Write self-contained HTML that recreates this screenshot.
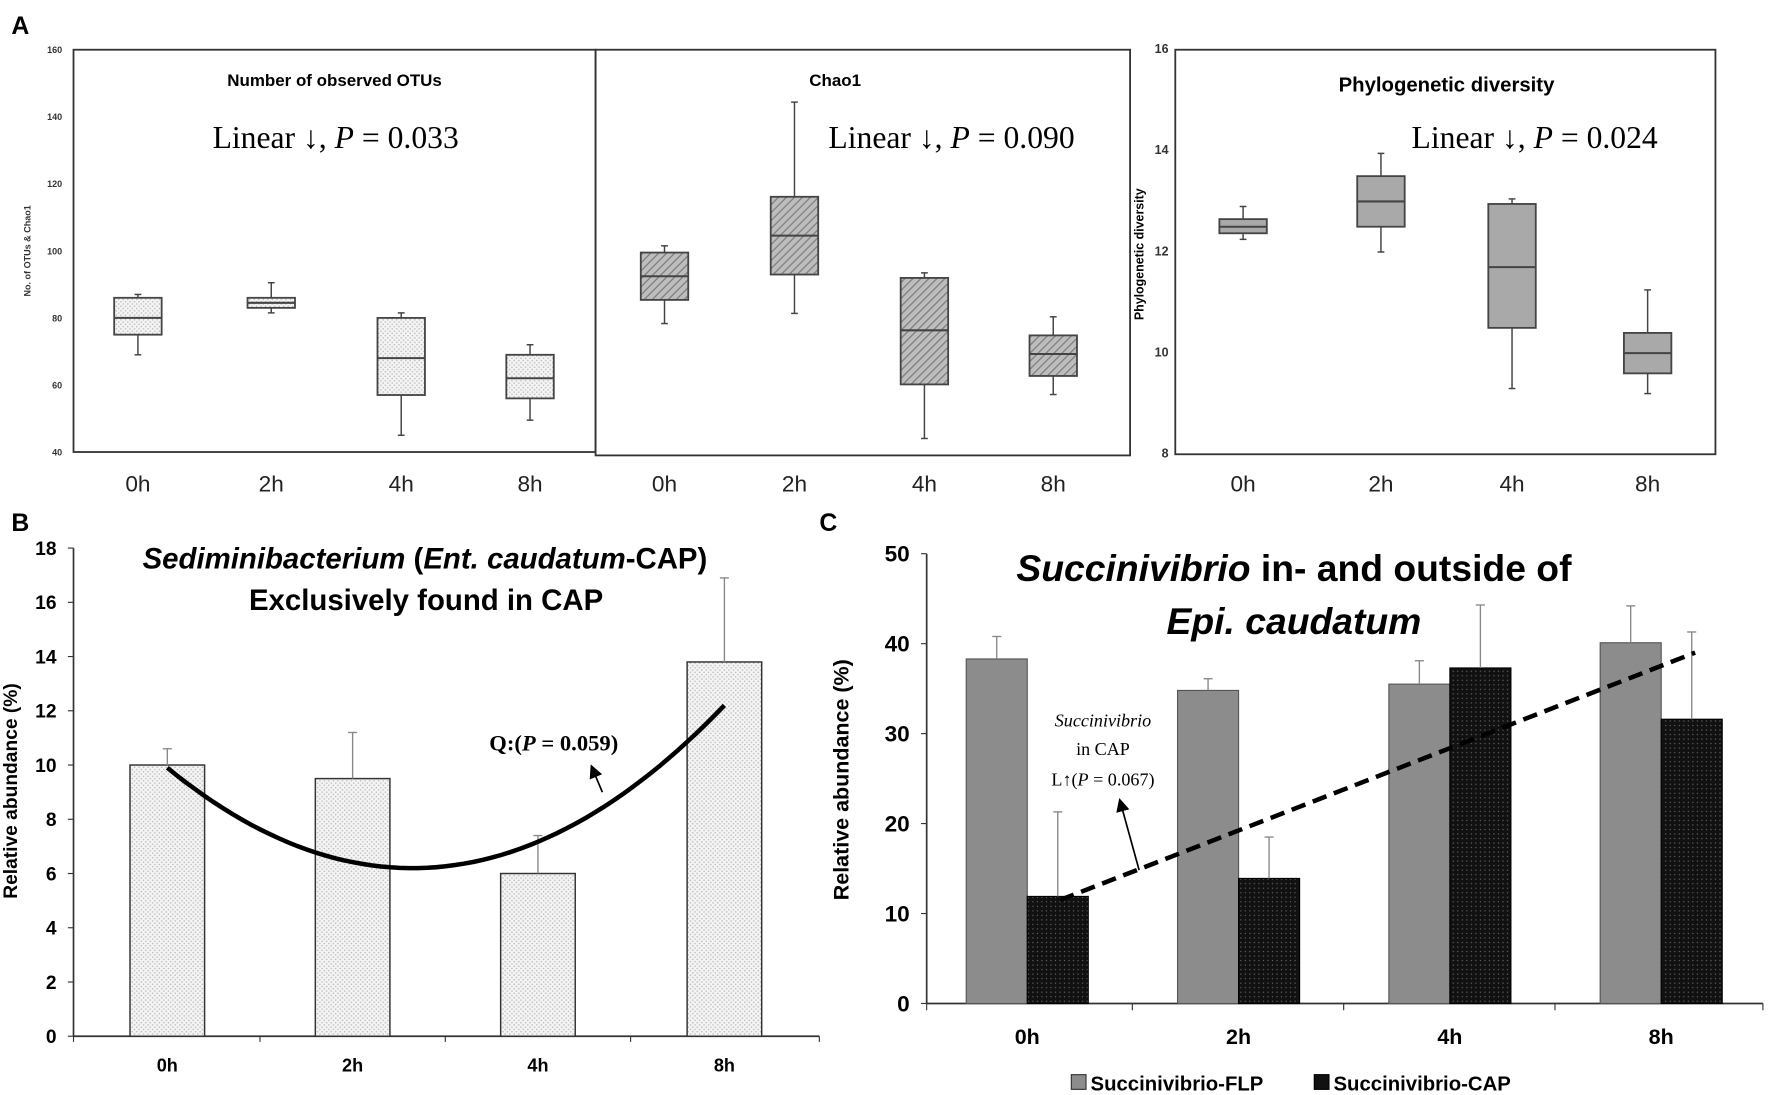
<!DOCTYPE html>
<html><head><meta charset="utf-8"><style>
html,body{margin:0;padding:0;background:#fff;}
svg{display:block;}
.nar{font-family:"Liberation Sans Narrow","Liberation Sans",sans-serif;}
.ser{font-family:"Liberation Serif",serif;}
</style></head><body>
<svg id="fig" width="1772" height="1095" viewBox="0 0 1568 969" xmlns="http://www.w3.org/2000/svg">
<defs>
<pattern id="dots" width="4" height="4" patternUnits="userSpaceOnUse"><rect width="4" height="4" fill="#f4f4f4"/><circle cx="1" cy="1" r="0.7" fill="#bbb"/><circle cx="3" cy="3" r="0.7" fill="#bbb"/></pattern>
<pattern id="hatch" width="5" height="5" patternUnits="userSpaceOnUse" patternTransform="rotate(45)"><rect width="5" height="5" fill="#bdbdbd"/><line x1="0" y1="0" x2="0" y2="5" stroke="#777" stroke-width="2"/></pattern>
<pattern id="blk" width="4" height="4" patternUnits="userSpaceOnUse"><rect width="4" height="4" fill="#111"/><circle cx="2" cy="2" r="0.6" fill="#666"/></pattern>
<marker id="arr" markerWidth="8" markerHeight="8" refX="4" refY="4" orient="auto"><path d="M0,0 L8,4 L0,8 z" fill="#000"/></marker>
</defs>
<g id="root"></g>
</svg>
<script>
const cats=["0h","2h","4h","8h"];
// Panel A1 OTUs: [lowWhisker, q1, median, q3, highWhisker]
const otuBoxes=[[69,75,80,86,87],[81.5,83,84.5,86,90.5],[45,57,68,80,81.5],[49.5,56,62,69,72]];
const chaoBoxes=[[79,86,93,100,102],[82,93.5,105,116.5,144.5],[45,61,77,92.5,94],[58,63.5,70,75.5,81]];
const pdBoxes=[[12.25,12.37,12.5,12.65,12.9],[12,12.5,13,13.5,13.95],[9.3,10.5,11.7,12.95,13.05],[9.2,9.6,10,10.4,11.25]];
const aTicks=[40,60,80,100,120,140,160];
const pdTicks=[8,10,12,14,16];
// Panel B
const sedVals=[10,9.5,6,13.8];
const sedErr=[0.6,1.7,1.4,3.1];
const bTicks=[0,2,4,6,8,10,12,14,16,18];
const quadFit=[9.9,6.2,12.2];
// Panel C
const flpVals=[38.3,34.8,35.5,40.1];
const flpErr=[2.5,1.3,2.6,4.1];
const capVals=[11.9,13.9,37.3,31.6];
const capErr=[9.4,4.6,7,9.7];
const cTicks=[0,10,20,30,40,50];
const capTrend=[11.5,39];

const NS="http://www.w3.org/2000/svg";
const root=document.getElementById('root');
function el(tag,attrs,parent,text){const e=document.createElementNS(NS,tag);for(const k in attrs)e.setAttribute(k,attrs[k]);if(text!==undefined)e.textContent=text;(parent||root).appendChild(e);return e;}
function txt(x,y,s,size,cls,extra,parent){const a={x:x,y:y,'font-size':size,'text-anchor':'middle',class:cls};for(const k in extra)a[k]=extra[k];return el('text',a,parent,s);}

let t;
t=txt(18,30,"A",22,"nar",{'font-weight':'bold'});
t=txt(18,470,"B",22,"nar",{'font-weight':'bold'});
t=txt(733,470,"C",22,"nar",{'font-weight':'bold'});

function boxPanel(name,x0,x1,yTop,yBot,vmin,vmax,ticks,boxes,xs,fill,title,titleX,titleY,titleSize,pText,pX,showTicks,tickSize,tickX){
  const g=el('g',{});
  
  
  const Y=v=>yBot-(v-vmin)/(vmax-vmin)*(yBot-yTop);
  const fr=el('rect',{x:x0,y:yTop,width:x1-x0,height:yBot-yTop,fill:'none',stroke:'#333','stroke-width':1.6},g);
  
  if(showTicks){ticks.forEach(v=>{const l=txt(tickX,Y(v)+3,String(v),tickSize,'nar',{'font-weight':'bold','text-anchor':'end',fill:'#333'},g);});}
  boxes.forEach((b,i)=>{
    const cx=xs[i],w=42;
    const bg=el('g',{},g);
    
    
    el('line',{x1:cx,x2:cx,y1:Y(b[0]),y2:Y(b[4]),stroke:'#444','stroke-width':1.3},bg);
    el('line',{x1:cx-3,x2:cx+3,y1:Y(b[0]),y2:Y(b[0]),stroke:'#444','stroke-width':1.3},bg);
    el('line',{x1:cx-3,x2:cx+3,y1:Y(b[4]),y2:Y(b[4]),stroke:'#444','stroke-width':1.3},bg);
    el('rect',{x:cx-w/2,y:Y(b[3]),width:w,height:Y(b[1])-Y(b[3]),fill:fill,stroke:'#444','stroke-width':1.6},bg);
    el('line',{x1:cx-w/2,x2:cx+w/2,y1:Y(b[2]),y2:Y(b[2]),stroke:'#444','stroke-width':1.8},bg);
    const l=txt(cx,435,cats[i],20,'nar',{fill:'#222'},g);
    
  });
  const tt=txt(titleX,titleY,title,titleSize,'nar',{'font-weight':'bold'},g);
  
  const p=el('text',{x:pX,y:131,'font-size':28,'text-anchor':'middle',class:'ser'},g);
  
  el('tspan',{},p,'Linear ↓, ');el('tspan',{'font-style':'italic'},p,'P');el('tspan',{},p,' = '+pText);
}
boxPanel('otu-boxplot',65,527,44,400,40,160,aTicks,otuBoxes,[122,240,355,469],'url(#dots)','Number of observed OTUs',296,76,15,'0.033',297,true,8,55);
boxPanel('chao1-boxplot',527,1000,44,403,40,160,aTicks,chaoBoxes,[588,703,818,932],'url(#hatch)','Chao1',739,76,15,'0.090',842,false);
boxPanel('pd-boxplot',1040,1518,44,402,8,16,pdTicks,pdBoxes,[1100,1222,1338,1458],'#a9a9a9','Phylogenetic diversity',1280,81,18,'0.024',1358,true,11,1034);
t=txt(0,0,"No. of OTUs & Chao1",8,'nar',{'font-weight':'bold',transform:'translate(27,222) rotate(-90)',fill:'#333'});
t=txt(0,0,"Phylogenetic diversity",11,'nar',{'font-weight':'bold',transform:'translate(1012,225) rotate(-90)'});

(function(){
  const g=el('g',{});
  const x0=65,yT=485,yB=917,vmax=18;
  const Y=v=>yB-v/vmax*(yB-yT);
  const xs=[148,312,476,641];
  el('line',{x1:x0,x2:x0,y1:yT,y2:yB,stroke:'#333','stroke-width':1.5},g);
  el('line',{x1:x0,x2:725,y1:yB,y2:yB,stroke:'#333','stroke-width':1.5},g);
  bTicks.forEach(v=>{el('line',{x1:x0-5,x2:x0,y1:Y(v),y2:Y(v),stroke:'#333'},g);const l=txt(50,Y(v)+6,String(v),17,'nar',{'font-weight':'bold','text-anchor':'end'},g);});
  [65,230,394,558,725].forEach(x=>el('line',{x1:x,x2:x,y1:yB,y2:yB+5,stroke:'#333'},g));
  sedVals.forEach((v,i)=>{
    const b=el('rect',{x:xs[i]-33,y:Y(v),width:66,height:yB-Y(v),fill:'url(#dots)',stroke:'#333','stroke-width':1.3},g);
    
    const e=el('line',{x1:xs[i],x2:xs[i],y1:Y(v),y2:Y(v+sedErr[i]),stroke:'#888','stroke-width':1.2},g);
    
    el('line',{x1:xs[i]-4,x2:xs[i]+4,y1:Y(v+sedErr[i]),y2:Y(v+sedErr[i]),stroke:'#888','stroke-width':1.2},g);
    const l=txt(xs[i],948,cats[i],16,'nar',{'font-weight':'bold'},g);
  });
  const px=[xs[0],360,xs[3]],py=quadFit;
  let d='';
  for(let k=0;k<=60;k++){const x=px[0]+(px[2]-px[0])*k/60;
    const L0=(x-px[1])*(x-px[2])/((px[0]-px[1])*(px[0]-px[2])),L1=(x-px[0])*(x-px[2])/((px[1]-px[0])*(px[1]-px[2])),L2=(x-px[0])*(x-px[1])/((px[2]-px[0])*(px[2]-px[1]));
    d+=(k?'L':'M')+x.toFixed(1)+','+Y(L0*py[0]+L1*py[1]+L2*py[2]).toFixed(1);}
  const c=el('path',{d:d,fill:'none',stroke:'#000','stroke-width':4},g);
  el('line',{x1:533,y1:701,x2:525,y2:682,stroke:'#000','stroke-width':1.5,'marker-end':'url(#arr)'},g);
  const q=el('text',{x:490,y:664,'font-size':20,'text-anchor':'middle',class:'ser','font-weight':'bold'},g);
  
  el('tspan',{},q,'Q:(');el('tspan',{'font-style':'italic'},q,'P');el('tspan',{},q,' = 0.059)');
  const t1=el('text',{x:376,y:503,'font-size':26,'text-anchor':'middle',class:'nar','font-weight':'bold'},g);
  
  el('tspan',{'font-style':'italic'},t1,'Sediminibacterium');el('tspan',{},t1,' (');el('tspan',{'font-style':'italic'},t1,'Ent. caudatum');el('tspan',{},t1,'-CAP)');
  const t2=txt(377,540,'Exclusively found in CAP',26,'nar',{'font-weight':'bold'},g);
  const yl=txt(0,0,'Relative abundance (%)',17,'nar',{'font-weight':'bold',transform:'translate(15,700) rotate(-90)'},g);
})();

(function(){
  const g=el('g',{});
  const x0=820,yT=490,yB=888,vmax=50;
  const Y=v=>yB-v/vmax*(yB-yT);
  const xs=[909,1096,1283,1470];
  el('line',{x1:x0,x2:x0,y1:yT,y2:yB,stroke:'#333','stroke-width':1.5},g);
  el('line',{x1:x0,x2:1560,y1:yB,y2:yB,stroke:'#333','stroke-width':1.5},g);
  cTicks.forEach(v=>{el('line',{x1:x0-5,x2:x0,y1:Y(v),y2:Y(v),stroke:'#333'},g);const l=txt(805,Y(v)+7,String(v),20,'nar',{'font-weight':'bold','text-anchor':'end'},g);});
  [820,1002,1189,1376,1560].forEach(x=>el('line',{x1:x,x2:x,y1:yB,y2:yB+6,stroke:'#333'},g));
  cats.forEach((c,i)=>{
    const f=el('rect',{x:xs[i]-54,y:Y(flpVals[i]),width:54,height:yB-Y(flpVals[i]),fill:'#8c8c8c',stroke:'#555'},g);
    
    const b=el('rect',{x:xs[i],y:Y(capVals[i]),width:54,height:yB-Y(capVals[i]),fill:'url(#blk)',stroke:'#000'},g);
    
    [[xs[i]-27,flpVals[i],flpErr[i]],[xs[i]+27,capVals[i],capErr[i]]].forEach(a=>{
      const e=el('line',{x1:a[0],x2:a[0],y1:Y(a[1]),y2:Y(a[1]+a[2]),stroke:'#888','stroke-width':1.2},g);
      
      el('line',{x1:a[0]-4,x2:a[0]+4,y1:Y(a[1]+a[2]),y2:Y(a[1]+a[2]),stroke:'#888','stroke-width':1.2},g);
    });
    const l=txt(xs[i],924,c,19,'nar',{'font-weight':'bold'},g);
  });
  const tr=el('line',{x1:938,y1:Y(capTrend[0]),x2:1500,y2:Y(capTrend[1]),stroke:'#000','stroke-width':4,'stroke-dasharray':'13,7'},g);
  
  el('line',{x1:1008,y1:770,x2:992,y2:712,stroke:'#000','stroke-width':1.5,'marker-end':'url(#arr)'},g);
  const a1=txt(976,643,'Succinivibrio',16,'ser',{'font-style':'italic'},g);
  const a2=txt(976,668,'in CAP',16,'ser',{},g);
  const a3=el('text',{x:976,y:695,'font-size':16,'text-anchor':'middle',class:'ser'},g);
  el('tspan',{},a3,'L↑(');el('tspan',{'font-style':'italic'},a3,'P');el('tspan',{},a3,' = 0.067)');
  const t1=el('text',{x:1145,y:514,'font-size':33,'text-anchor':'middle',class:'nar','font-weight':'bold'},g);
  
  el('tspan',{'font-style':'italic'},t1,'Succinivibrio');el('tspan',{},t1,' in- and outside of');
  const t2=txt(1145,561,'Epi. caudatum',33,'nar',{'font-weight':'bold','font-style':'italic'},g);
  const yl=txt(0,0,'Relative abundance (%)',19,'nar',{'font-weight':'bold',transform:'translate(751,690) rotate(-90)'},g);
  const lg=el('g',{},g);
  const l1=el('g',{},lg);
  el('rect',{x:948,y:951,width:13,height:13,fill:'#8c8c8c',stroke:'#333'},l1);
  txt(965,965,'Succinivibrio-FLP',18,'nar',{'font-weight':'bold','text-anchor':'start'},l1);
  const l2=el('g',{},lg);
  el('rect',{x:1163,y:951,width:13,height:13,fill:'#111',stroke:'#000'},l2);
  txt(1180,965,'Succinivibrio-CAP',18,'nar',{'font-weight':'bold','text-anchor':'start'},l2);
})();
</script>
</body></html>
